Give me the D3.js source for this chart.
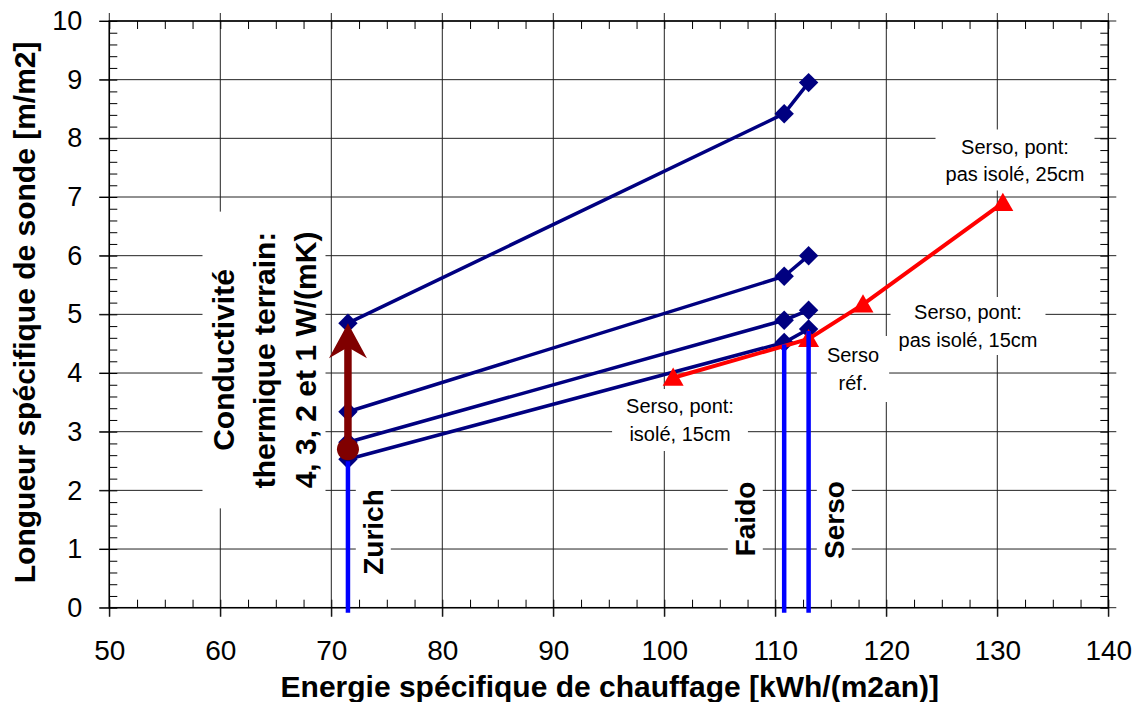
<!DOCTYPE html>
<html lang="fr">
<head>
  <meta charset="UTF-8">
  <title>sonde</title>
  <script src="https://d3js.org/d3.v7.min.js"></script>
  <style>
    body { margin: 0; background: #fff; }
    text { font-family: "Liberation Sans", Arial, sans-serif; }
  </style>
</head>
<body>
<svg width="1139" height="702"></svg>
<script>
  // données
  var stations = ["Zurich", "Faido", "Serso"];
  var energie = [71.5, 110.8, 113.0];          // kWh/(m2an) pour chaque station
  var conductivite = [1, 2, 3, 4];             // W/(mK)
  var longueur = [                              // m/m2, une ligne par conductivité
    [4.85, 8.42, 8.95],
    [3.34, 5.65, 6.00],
    [2.82, 4.90, 5.07],
    [2.53, 4.52, 4.75]
  ];
  var sersoEnergie = [100.8, 113.0, 117.9, 130.5];
  var sersoLongueur = [3.92, 4.58, 5.17, 6.90];
  var fleche = { x: 71.5, de: 2.70, a: 4.85 };
  var xTicks = [50, 60, 70, 80, 90, 100, 110, 120, 130, 140];
  var yTicks = [0, 1, 2, 3, 4, 5, 6, 7, 8, 9, 10];

  var svg = d3.select('svg');
  // bords de la zone de tracé (attention : "top" est réservé par window)
  var pLeft = 109.3, pRight = 1108.3, pTop = 21, pBottom = 607.7;

  var x = d3.scaleLinear().domain([50, 140]).range([pLeft, pRight]);
  var y = d3.scaleLinear().domain([0, 10]).range([pBottom, pTop]);

  var xMinor = d3.range(50, 140.01, 2.5);
  var yMinor = d3.range(0, 10.01, 0.2);

  // grille
  var grid = svg.append('g').attr('stroke', '#222').attr('stroke-width', 1);
  grid.selectAll('.gx').data(xTicks).enter().append('line')
    .attr('x1', d => x(d)).attr('x2', d => x(d))
    .attr('y1', pTop - 8).attr('y2', pBottom + 9);
  grid.selectAll('.gy').data(yTicks).enter().append('line')
    .attr('x1', pLeft - 10).attr('x2', pRight + 8)
    .attr('y1', d => y(d)).attr('y2', d => y(d));

  // graduations secondaires vers l'intérieur
  function minor(axis, pos) {
    var g = svg.append('g').attr('transform', pos).call(axis);
    g.select('.domain').remove();
    g.selectAll('text').remove();
    g.selectAll('line').attr('stroke', '#000');
  }
  minor(d3.axisBottom(x).tickValues(xMinor).tickSize(-8), 'translate(0,' + pBottom + ')');
  minor(d3.axisTop(x).tickValues(xMinor).tickSize(-8), 'translate(0,' + pTop + ')');
  minor(d3.axisLeft(y).tickValues(yMinor).tickSize(-8), 'translate(' + pLeft + ',0)');
  minor(d3.axisRight(y).tickValues(yMinor).tickSize(-8), 'translate(' + pRight + ',0)');

  // étiquettes des axes
  var gx = svg.append('g').attr('transform', 'translate(0,' + pBottom + ')')
    .call(d3.axisBottom(x).tickValues(xTicks).tickSize(9).tickPadding(23));
  gx.select('.domain').remove();
  gx.selectAll('text').attr('font-size', 28).attr('font-family', '"Liberation Sans", Arial, sans-serif').attr('fill', '#000');

  var gy = svg.append('g').attr('transform', 'translate(' + pLeft + ',0)')
    .call(d3.axisLeft(y).tickValues(yTicks).tickSize(10).tickPadding(17));
  gy.select('.domain').remove();
  gy.selectAll('text').attr('font-size', 27).attr('font-family', '"Liberation Sans", Arial, sans-serif').attr('fill', '#000');

  // cadre
  svg.append('rect').attr('x', pLeft).attr('y', pTop)
    .attr('width', pRight - pLeft).attr('height', pBottom - pTop)
    .attr('fill', 'none').attr('stroke', '#000').attr('stroke-width', 1.5);

  // étiquette avec fond blanc
  function label(lines, cx, cy, opt) {
    var g = svg.append('g').attr('transform', 'translate(' + cx + ',' + cy + ')' + (opt.rot ? ' rotate(-90)' : ''));
    var bg = g.append('rect').attr('fill', '#fff');
    var t = g.append('text')
      .attr('text-anchor', 'middle')
      .attr('font-size', opt.size)
      .attr('font-weight', opt.bold ? 'bold' : 'normal')
      .attr('fill', '#000');
    var n = lines.length;
    lines.forEach(function (s, i) {
      t.append('tspan').attr('x', 0)
        .attr('y', (i - (n - 1) / 2) * opt.lh)
        .attr('dy', '0.35em')
        .text(s);
    });
    var b = t.node().getBBox();
    bg.attr('x', b.x - opt.px).attr('y', b.y - opt.py)
      .attr('width', b.width + 2 * opt.px).attr('height', b.height + 2 * opt.py);
  }

  label(['Conductivité', 'thermique terrain:', '4, 3, 2 et 1 W/(mK)'], 264, 360,
    { rot: true, size: 30, bold: true, lh: 41, px: 20, py: 4 });
  label(['Zurich'], 373, 532, { rot: true, size: 28, bold: true, lh: 30, px: 12, py: 2 });
  label(['Faido'], 745, 519, { rot: true, size: 28, bold: true, lh: 30, px: 12, py: 2 });
  label(['Serso'], 834, 520, { rot: true, size: 28, bold: true, lh: 30, px: 12, py: 2 });
  label(['Serso, pont:', 'isolé, 15cm'], 680, 420, { size: 20, lh: 28, px: 14, py: 6 });
  label(['Serso, pont:', 'pas isolé, 25cm'], 1015, 160, { size: 20, lh: 27, px: 10, py: 6 });
  label(['Serso, pont:', 'pas isolé, 15cm'], 968, 326, { size: 20, lh: 28, px: 8, py: 4 });
  label(['Serso', 'réf.'], 853, 369, { size: 20, lh: 28, px: 10, py: 8 });

  // séries par conductivité
  var line = d3.line().x(d => x(d[0])).y(d => y(d[1]));
  var diamond = d3.symbol().type(d3.symbolDiamond2).size(240);
  longueur.forEach(function (serie, k) {
    var pts = serie.map((v, i) => [energie[i], v]);
    var g = svg.append('g').attr('class', 'k' + conductivite[k]);
    g.append('path').attr('d', line(pts)).attr('fill', 'none')
      .attr('stroke', '#000080').attr('stroke-width', 3.5);
    g.selectAll('path.m').data(pts).enter().append('path').attr('class', 'm')
      .attr('d', diamond)
      .attr('transform', d => 'translate(' + x(d[0]) + ',' + y(d[1]) + ')')
      .attr('fill', '#000080');
  });

  // variantes Serso
  var sersoPts = sersoEnergie.map((v, i) => [v, sersoLongueur[i]]);
  svg.append('path').attr('d', line(sersoPts)).attr('fill', 'none')
    .attr('stroke', '#ff0000').attr('stroke-width', 4);
  var tri = d3.symbol().type(d3.symbolTriangle).size(190);
  svg.selectAll('path.tri').data(sersoPts).enter().append('path').attr('class', 'tri')
    .attr('d', tri)
    .attr('transform', d => 'translate(' + x(d[0]) + ',' + (y(d[1]) + 2) + ')')
    .attr('fill', '#ff0000');

  // verticales des stations
  svg.selectAll('line.st').data(energie).enter().append('line').attr('class', 'st')
    .attr('x1', d => x(d)).attr('x2', d => x(d))
    .attr('y1', pBottom + 5).attr('y2', (d, i) => y(longueur[3][i]) + 2)
    .attr('stroke', '#0000ff').attr('stroke-width', 4.5);

  // flèche conductivité
  var fx = x(fleche.x), fy0 = y(fleche.de), fy1 = y(fleche.a);
  svg.append('line').attr('x1', fx).attr('x2', fx).attr('y1', fy0).attr('y2', fy1 + 22)
    .attr('stroke', '#800000').attr('stroke-width', 7.5);
  svg.append('path')
    .attr('d', 'M' + fx + ',' + fy1 + 'L' + (fx + 19) + ',' + (fy1 + 35) +
      'L' + fx + ',' + (fy1 + 24) + 'L' + (fx - 19) + ',' + (fy1 + 35) + 'Z')
    .attr('fill', '#800000');
  svg.append('circle').attr('cx', fx).attr('cy', fy0).attr('r', 11).attr('fill', '#800000');

  // titres
  svg.append('text').attr('x', (pLeft + pRight) / 2 + 1).attr('y', 697)
    .attr('text-anchor', 'middle').attr('font-size', 30).attr('font-weight', 'bold')
    .text('Energie spécifique de chauffage [kWh/(m2an)]');
  svg.append('text').attr('transform', 'translate(35,' + ((pTop + pBottom) / 2 - 2) + ') rotate(-90)')
    .attr('text-anchor', 'middle').attr('font-size', 30).attr('font-weight', 'bold')
    .text('Longueur spécifique de sonde [m/m2]');
</script>
</body>
</html>
